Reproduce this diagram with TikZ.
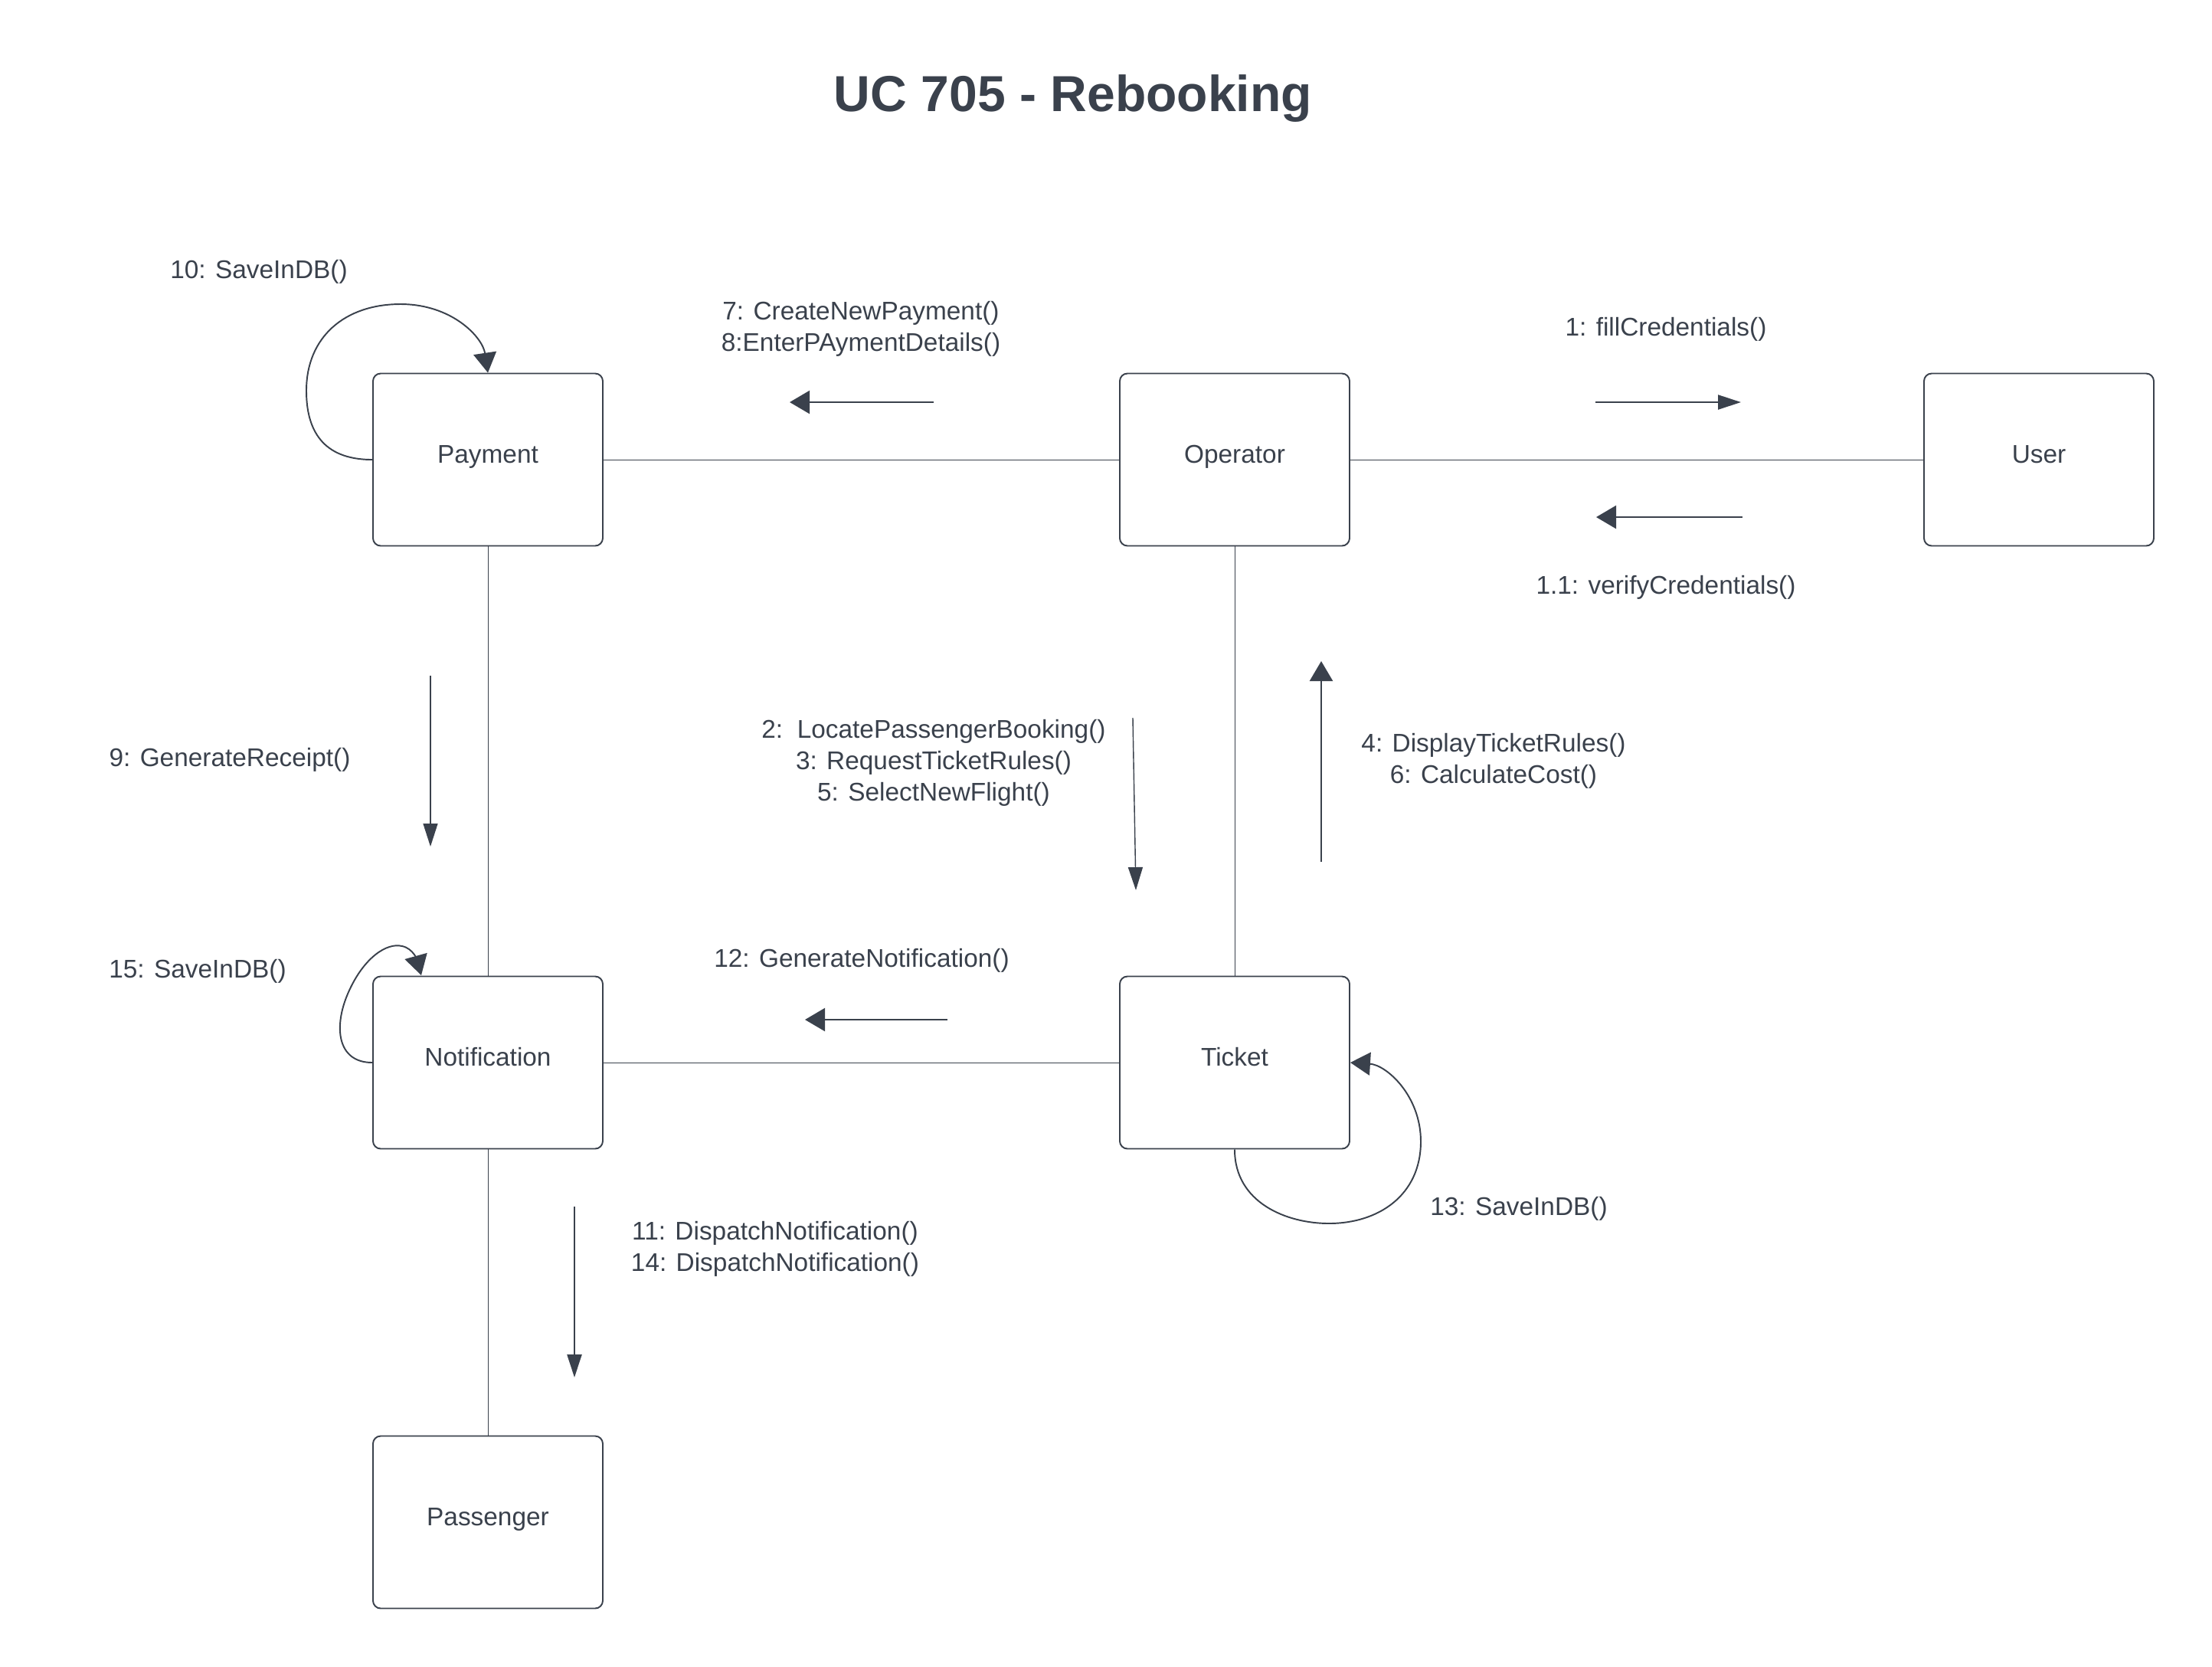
\documentclass[tikz,border=0pt]{standalone}
\usepackage{fontspec}
\setmainfont{Liberation Sans}
\usepackage{xcolor}
\definecolor{ucink}{RGB}{58,65,76}
\usepackage{tikz}
\usetikzlibrary{arrows.meta, positioning}

\begin{document}
\begin{tikzpicture}[
  obj/.style={rectangle, rounded corners=1mm, draw=ucink, line width=0.55pt,
              minimum width=3cm, minimum height=2.25cm, align=center,
              text height=7pt, text depth=4.4pt,
              font=\fontsize{9.5}{11.6}\selectfont, text=ucink},
  lnk/.style={draw=ucink, line width=0.25pt},
  msgbig/.style={draw=ucink, line width=0.65pt, -{Triangle[width=3mm,length=2.6mm]}},
  msgsmall/.style={draw=ucink, line width=#1, -{Triangle[width=1.9mm,length=3mm]}},
  msgsmall/.default=0.65pt,
  selfloop/.style={draw=ucink, line width=0.55pt, -{Triangle[width=3mm,length=2.6mm]}},
  lbl/.style={font=\fontsize{9.5}{11.6}\selectfont, text=ucink, align=center, inner sep=0pt}
]
\path[fill=white] (0,0) rectangle (28.88,-21.75);

% Title
\node[font=\fontsize{18.8}{22}\selectfont\bfseries, text=ucink, anchor=base] (ttl) at (14.01,-1.45) {UC 705 - Rebooking};

% Objects
\node[obj] (pay) at (6.37,-6.00) {Payment};
\node[obj] (opr) at (16.12,-6.00) {Operator};
\node[obj] (usr) at (26.62,-6.00) {User};
\node[obj] (ntf) at (6.37,-13.87) {Notification};
\node[obj] (tkt) at (16.12,-13.87) {Ticket};
\node[obj] (psg) at (6.37,-19.87) {Passenger};

% Links
\draw[lnk] (pay) -- (opr);
\draw[lnk] (opr) -- (usr);
\draw[lnk] (pay) -- (ntf);
\draw[lnk] (opr) -- (tkt);
\draw[lnk] (ntf) -- (tkt);
\draw[lnk] (ntf) -- (psg);

% Self messages
\draw[selfloop] (pay.west) .. controls (4.20,-6.00) and (4.00,-5.60) .. (4.00,-5.10)
  .. controls (4.00,-4.40) and (4.50,-3.97) .. (5.23,-3.97)
  .. controls (5.90,-3.97) and (6.30,-4.40) .. (pay.north);
\draw[selfloop] (ntf.west) .. controls (4.40,-13.87) and (4.35,-13.40) .. (4.55,-12.95)
  .. controls (4.75,-12.50) and (5.05,-12.30) .. (5.25,-12.35)
  .. controls (5.40,-12.38) and (5.45,-12.55) .. (5.50,-12.73);
\draw[selfloop] (tkt.south) .. controls (16.12,-15.70) and (16.80,-15.97) .. (17.35,-15.97)
  .. controls (18.00,-15.97) and (18.55,-15.60) .. (18.55,-14.90)
  .. controls (18.55,-14.30) and (18.10,-13.90) .. (tkt.east);

% Message arrows
\coordinate (m7s) at (12.19,-5.25);
\coordinate (m7e) at (10.31,-5.25);
\coordinate (m1s) at (20.83,-5.25);
\coordinate (m1e) at (22.73,-5.25);
\coordinate (m1xs) at (22.75,-6.75);
\coordinate (m1xe) at (20.84,-6.75);
\coordinate (m9s) at (5.62,-8.82);
\coordinate (m9e) at (5.62,-11.05);
\coordinate (m2s) at (14.79,-9.37);
\coordinate (m2e) at (14.83,-11.62);
\coordinate (m4s) at (17.25,-11.25);
\coordinate (m4e) at (17.25,-8.63);
\coordinate (m12s) at (12.37,-13.31);
\coordinate (m12e) at (10.51,-13.31);
\coordinate (m11s) at (7.50,-15.75);
\coordinate (m11e) at (7.50,-17.98);
\draw[msgbig] (m7s) -- (m7e);
\draw[msgsmall] (m1s) -- (m1e);
\draw[msgbig] (m1xs) -- (m1xe);
\draw[msgsmall=0.4pt] (m9s) -- (m9e);
\draw[msgsmall=0.4pt] (m2s) -- (m2e);
\draw[msgbig] (m4s) -- (m4e);
\draw[msgbig] (m12s) -- (m12e);
\draw[msgsmall] (m11s) -- (m11e);

% Message labels
\node[lbl] (t10) at (3.38,-3.55) {10: SaveInDB()};
\node[lbl] (t78) at (11.24,-4.29) {7: CreateNewPayment()\\8:EnterPAymentDetails()};
\node[lbl] (t1) at (21.75,-4.30) {1: fillCredentials()};
\node[lbl] (t1x) at (21.75,-7.67) {1.1: verifyCredentials()};
\node[lbl] (t9) at (3.00,-9.92) {9: GenerateReceipt()};
\node[lbl] (t235) at (12.19,-9.96) {2:\ \ LocatePassengerBooking()\\3: RequestTicketRules()\\5: SelectNewFlight()};
\node[lbl] (t46) at (19.50,-9.93) {4: DisplayTicketRules()\\6: CalculateCost()};
\node[lbl] (t15) at (2.58,-12.68) {15: SaveInDB()};
\node[lbl] (t12) at (11.25,-12.54) {12: GenerateNotification()};
\node[lbl] (t13) at (19.83,-15.78) {13: SaveInDB()};
\node[lbl] (t1114) at (10.12,-16.30) {11: DispatchNotification()\\14: DispatchNotification()};
\end{tikzpicture}
\end{document}
